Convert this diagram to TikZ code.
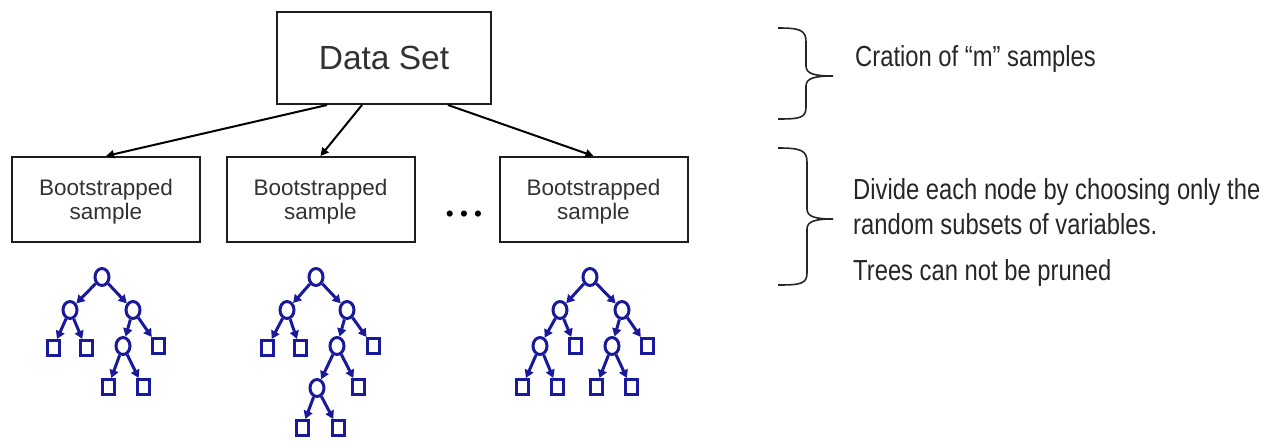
\documentclass[tikz,border=0pt]{standalone}
\usepackage{fontspec}
\setmainfont{Liberation Sans}
\newfontfamily\narrowfont[FakeStretch=0.82]{Liberation Sans}
\usetikzlibrary{arrows.meta,shapes.geometric}
\definecolor{tblue}{RGB}{25,25,155}
\definecolor{boxline}{RGB}{30,30,30}
\definecolor{boxtext}{RGB}{50,50,50}
\tikzset{
  bigbox/.style={draw=boxline,line width=2pt,minimum width=214pt,minimum height=92pt,inner sep=0pt,
    font=\fontsize{33.5}{40}\selectfont,text=boxtext},
  bootbox/.style={draw=boxline,line width=2pt,minimum width=188pt,minimum height=85pt,inner sep=0pt},
  boottext/.style={align=center,inner sep=0pt,font=\fontsize{22.5}{24.5}\selectfont,text=boxtext},
  topedge/.style={draw=black,line width=2pt,-{Triangle[length=8pt,width=8pt]}},
  tc/.style={ellipse,draw=tblue,line width=3pt,minimum width=14pt,minimum height=17pt,inner sep=0pt},
  ts/.style={rectangle,draw=tblue,line width=3pt,minimum width=12pt,minimum height=15pt,inner sep=0pt},
  te/.style={draw=tblue,line width=3pt,-{Triangle[length=8pt,width=9pt]}},
  rtext/.style={anchor=base west,inner sep=0pt,font=\narrowfont\fontsize{29}{35}\selectfont,text=black!85},
  brace/.style={draw=black!85,line width=1.6pt}
}
\begin{document}
\begin{tikzpicture}[x=1pt,y=-1pt]
\useasboundingbox (0,0) rectangle (1277,441);
% main boxes
\node[bigbox] (ds) at (384,58) {Data Set};
\node[bootbox] (b1) at (106,199.5) {};
\node[bootbox] (b2) at (320.5,199.5) {};
\node[bootbox] (b3) at (593.5,199.5) {};
\node[boottext] (b1t) at ([yshift=-2pt]b1.center) {Bootstrapped\\sample};
\node[boottext] (b2t) at ([yshift=-2pt]b2.center) {Bootstrapped\\sample};
\node[boottext] (b3t) at ([yshift=-2pt]b3.center) {Bootstrapped\\sample};
\node[anchor=base,inner sep=0pt,font=\fontsize{22.5}{27}\selectfont,text=black] (dots) at (464,221) {• • •};
\draw[topedge] ([xshift=-57pt]ds.south) -- (b1.north);
\draw[topedge] ([xshift=-22pt]ds.south) -- (b2.north);
\draw[topedge] ([xshift=64pt]ds.south) -- (b3.north);
% tree 1
\node[tc] (a0) at (102,277) {};
\node[tc] (a1) at (70,310) {};
\node[tc] (a2) at (133,310) {};
\node[ts] (a3) at (53,348) {};
\node[ts] (a4) at (86,348) {};
\node[tc] (a5) at (123,346) {};
\node[ts] (a6) at (158,346) {};
\node[ts] (a7) at (108,387) {};
\node[ts] (a8) at (143,387) {};
\draw[te] (a0) -- (a1);
\draw[te] (a0) -- (a2);
\draw[te] (a1) -- (a3);
\draw[te] (a1) -- (a4);
\draw[te] (a2) -- (a5);
\draw[te] (a2) -- (a6);
\draw[te] (a5) -- (a7);
\draw[te] (a5) -- (a8);
% tree 2
\node[tc] (c0) at (316,277) {};
\node[tc] (c1) at (287,310) {};
\node[tc] (c2) at (347,310) {};
\node[ts] (c3) at (267,348) {};
\node[ts] (c4) at (300,348) {};
\node[tc] (c5) at (337,346) {};
\node[ts] (c6) at (373,346) {};
\node[tc] (c7) at (317,388) {};
\node[ts] (c8) at (358,387) {};
\node[ts] (c9) at (302,428) {};
\node[ts] (c10) at (338,428) {};
\draw[te] (c0) -- (c1);
\draw[te] (c0) -- (c2);
\draw[te] (c1) -- (c3);
\draw[te] (c1) -- (c4);
\draw[te] (c2) -- (c5);
\draw[te] (c2) -- (c6);
\draw[te] (c5) -- (c7);
\draw[te] (c5) -- (c8);
\draw[te] (c7) -- (c9);
\draw[te] (c7) -- (c10);
% tree 3
\node[tc] (e0) at (590,277) {};
\node[tc] (e1) at (560,310) {};
\node[tc] (e2) at (622,310) {};
\node[tc] (e3) at (540,346) {};
\node[ts] (e4) at (575,346) {};
\node[tc] (e5) at (612,346) {};
\node[ts] (e6) at (647,346) {};
\node[ts] (e7) at (522,387) {};
\node[ts] (e8) at (557,387) {};
\node[ts] (e9) at (596,387) {};
\node[ts] (e10) at (631,387) {};
\draw[te] (e0) -- (e1);
\draw[te] (e0) -- (e2);
\draw[te] (e1) -- (e3);
\draw[te] (e1) -- (e4);
\draw[te] (e2) -- (e5);
\draw[te] (e2) -- (e6);
\draw[te] (e3) -- (e7);
\draw[te] (e3) -- (e8);
\draw[te] (e5) -- (e9);
\draw[te] (e5) -- (e10);
% braces
\draw[brace] (778,28) .. controls (800,28) and (806,30) .. (806,42) -- (806,66)
  .. controls (806,74) and (815,76) .. (833,76)
  .. controls (815,76) and (806,78) .. (806,86) -- (806,107)
  .. controls (806,118) and (800,119) .. (778,119);
\draw[brace] (778,148) .. controls (800,148) and (807,150) .. (807,162) -- (807,209)
  .. controls (807,217) and (816,219) .. (833,219)
  .. controls (816,219) and (807,221) .. (807,229) -- (807,273)
  .. controls (807,284) and (800,285) .. (778,285);
% right texts
\node[rtext] (t1) at (855,67) {Cration of “m” samples};
\node[rtext] (t2) at (853,199) {Divide each node by choosing only the};
\node[rtext] (t3) at (853,234) {random subsets of variables.};
\node[rtext] (t4) at (853,280) {Trees can not be pruned};
\end{tikzpicture}
\end{document}
